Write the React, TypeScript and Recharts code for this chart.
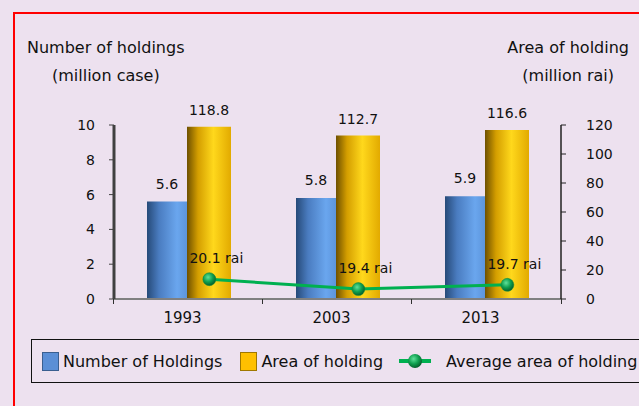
import { ComposedChart, Bar, Line, XAxis, YAxis, LabelList } from 'recharts';

const years = ['1993', '2003', '2013'];
const holdings = [5.6, 5.8, 5.9];
const area = [118.8, 112.7, 116.6];
const avgArea = [20.1, 19.4, 19.7];
const leftTicks = [0, 2, 4, 6, 8, 10];
const rightTicks = [0, 20, 40, 60, 80, 100, 120];

// the avg-area points sit over the yellow bars, not the band centre
const LINE_SHIFT = 0.14;

const data = years.map((year, i) => ({
  year,
  holdings: holdings[i],
  area: area[i],
  avg: avgArea[i],
  pos: i + 0.5 + LINE_SHIFT,
}));

const FONT = '"DejaVu Sans", Verdana, sans-serif';
const BAND = 150;

const CategoryTick = (props: any) => {
  const { x, y, payload, index } = props;
  return (
    <g>
      <line x1={x - BAND / 2} y1={y - 8} x2={x - BAND / 2} y2={y - 3} stroke="#303030" />
      {index === years.length - 1 && (
        <line x1={x + BAND / 2} y1={y - 8} x2={x + BAND / 2} y2={y - 3} stroke="#303030" />
      )}
      <text x={x - 6} y={y + 16} textAnchor="middle" fontSize={15} fill="#111" fontFamily={FONT}>
        {payload.value}
      </text>
    </g>
  );
};

const RightTick = (props: any) => {
  const { x, y, payload } = props;
  return (
    <text x={x + 18} y={y} dy={5} textAnchor="start" fontSize={14} fill="#111" fontFamily={FONT}>
      {payload.value}
    </text>
  );
};

const AvgDot = (props: any) => {
  const { cx, cy, key } = props;
  return <circle key={key} cx={cx} cy={cy} r={6.5} fill="url(#dotGrad)" stroke="#0a8a40" strokeWidth={0.5} />;
};

const AvgLabel = (props: any) => {
  const { x, y, value } = props;
  return (
    <text x={x + 7} y={y - 16} textAnchor="middle" fontSize={14} fill="#111" fontFamily={FONT}>
      {value} rai
    </text>
  );
};

const LegendBox = () => (
  <div
    style={{
      position: 'absolute',
      left: 31,
      top: 339,
      width: 612,
      height: 44,
      border: '1.5px solid #111',
      boxSizing: 'border-box',
      display: 'flex',
      alignItems: 'center',
      fontFamily: FONT,
      fontSize: 16,
      color: '#111',
      whiteSpace: 'nowrap',
    }}
  >
    <span style={{ display: 'inline-block', width: 17, height: 19, marginLeft: 10, background: '#5b8fd6', border: '1px solid #3a5f90', boxSizing: 'border-box' }} />
    <span style={{ marginLeft: 4 }}>Number of Holdings</span>
    <span style={{ display: 'inline-block', width: 17, height: 19, marginLeft: 18, background: '#ffc000', border: '1px solid #a07800', boxSizing: 'border-box' }} />
    <span style={{ marginLeft: 4 }}>Area of holding</span>
    <svg width={32} height={16} style={{ marginLeft: 16 }}>
      <defs>
        <radialGradient id="legDot" cx="40%" cy="35%" r="65%">
          <stop offset="0%" stopColor="#5fe09a" />
          <stop offset="55%" stopColor="#10a050" />
          <stop offset="100%" stopColor="#05602c" />
        </radialGradient>
      </defs>
      <line x1={0} y1={8} x2={32} y2={8} stroke="#00b050" strokeWidth={4} />
      <circle cx={16} cy={8} r={7} fill="url(#legDot)" />
    </svg>
    <span style={{ marginLeft: 15 }}>Average area of holding</span>
  </div>
);

const App = () => {
  return (
    <div
      style={{
        position: 'absolute',
        left: 0,
        top: 0,
        width: 639,
        height: 406,
        background: '#ede1ef',
        overflow: 'hidden',
        fontFamily: FONT,
      }}
    >
      <div style={{ position: 'absolute', left: 13, top: 12, width: 640, height: 400, border: '2px solid #ff0000' }} />
      <div style={{ position: 'absolute', left: 27, top: 38, fontSize: 16, color: '#111' }}>Number of holdings</div>
      <div style={{ position: 'absolute', left: 52, top: 66, fontSize: 16, color: '#111' }}>(million case)</div>
      <div style={{ position: 'absolute', right: 10, top: 38, fontSize: 16, color: '#111' }}>Area of holding</div>
      <div style={{ position: 'absolute', right: 25, top: 66, fontSize: 16, color: '#111' }}>(million rai)</div>

      <div style={{ position: 'absolute', left: 0, top: 0 }}>
        <ComposedChart
          width={639}
          height={340}
          data={data}
          margin={{ top: 125, right: 0, bottom: 0, left: 0 }}
          barGap={0}
          barCategoryGap={0}
        >
          <defs>
            <linearGradient id="blueGrad" x1="0" y1="0" x2="1" y2="0">
              <stop offset="0%" stopColor="#264a78" />
              <stop offset="30%" stopColor="#4a7cc0" />
              <stop offset="75%" stopColor="#6aa6ee" />
              <stop offset="100%" stopColor="#5d95dc" />
            </linearGradient>
            <linearGradient id="goldGrad" x1="0" y1="0" x2="1" y2="0">
              <stop offset="0%" stopColor="#6e5000" />
              <stop offset="25%" stopColor="#d49e00" />
              <stop offset="60%" stopColor="#ffd81c" />
              <stop offset="100%" stopColor="#e2aa00" />
            </linearGradient>
            <radialGradient id="dotGrad" cx="40%" cy="35%" r="65%">
              <stop offset="0%" stopColor="#5fe09a" />
              <stop offset="55%" stopColor="#10a050" />
              <stop offset="100%" stopColor="#05602c" />
            </radialGradient>
          </defs>
          <XAxis
            xAxisId="cat"
            dataKey="year"
            height={41}
            axisLine={{ stroke: '#808080', strokeWidth: 2 }}
            tickLine={false}
            tick={<CategoryTick />}
            interval={0}
          />
          <XAxis xAxisId="num" type="number" dataKey="pos" domain={[0, 3]} height={0} hide />
          <YAxis
            yAxisId="left"
            width={114}
            domain={[0, 10]}
            ticks={leftTicks}
            axisLine={{ stroke: '#404040', strokeWidth: 3 }}
            tickLine={{ stroke: '#404040' }}
            tickSize={5}
            tickMargin={14}
            tick={{ fontSize: 14, fill: '#111', fontFamily: FONT }}
          />
          <YAxis
            yAxisId="right"
            orientation="right"
            width={78}
            domain={[0, 120]}
            ticks={rightTicks}
            axisLine={{ stroke: '#202020', strokeWidth: 1.5 }}
            tickLine={{ stroke: '#202020' }}
            tickSize={5}
            tick={<RightTick />}
          />
          <YAxis yAxisId="avg" orientation="right" domain={[18.7, 31]} width={0} hide />
          <Bar xAxisId="cat" yAxisId="left" dataKey="holdings" barSize={40} fill="url(#blueGrad)" isAnimationActive={false}>
            <LabelList dataKey="holdings" position="top" offset={13} fontSize={14} fill="#111" fontFamily={FONT} />
          </Bar>
          <Bar xAxisId="cat" yAxisId="right" dataKey="area" barSize={44} fill="url(#goldGrad)" isAnimationActive={false}>
            <LabelList dataKey="area" position="top" offset={12} fontSize={14} fill="#111" fontFamily={FONT} />
          </Bar>
          <Line
            xAxisId="num"
            yAxisId="avg"
            dataKey="avg"
            type="linear"
            stroke="#00b050"
            strokeWidth={3}
            dot={<AvgDot />}
            activeDot={false}
            isAnimationActive={false}
          >
            <LabelList dataKey="avg" content={<AvgLabel />} />
          </Line>
        </ComposedChart>
      </div>
      <LegendBox />
    </div>
  );
};

export default App;
